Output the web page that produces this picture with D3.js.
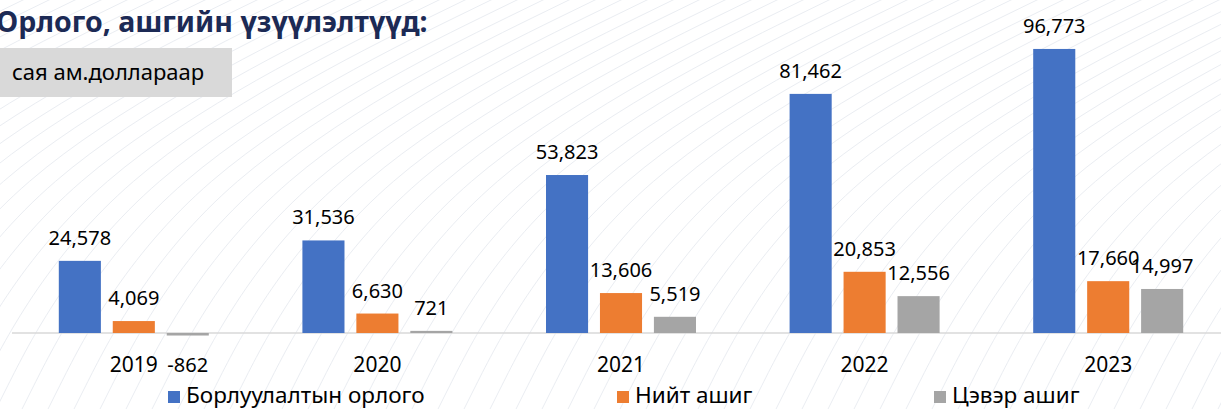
<!DOCTYPE html>
<html>
<head>
<meta charset="utf-8">
<script src="https://cdn.jsdelivr.net/npm/d3@7"></script>
<style>
  html, body { margin: 0; padding: 0; background: #fff; }
  svg { display: block; font-family: "Noto Sans", "Open Sans", sans-serif; }
</style>
</head>
<body>
<div id="chart"></div>
<script>
// data
const years = ['2019', '2020', '2021', '2022', '2023'];
const seriesNames = ['Борлуулалтын орлого', 'Нийт ашиг', 'Цэвэр ашиг'];
const revenue = [24578, 31536, 53823, 81462, 96773];
const grossProfit = [4069, 6630, 13606, 20853, 17660];
const netProfit = [-862, 721, 5519, 12556, 14997];
const colors = ['#4472c4', '#ed7d31', '#a5a5a5'];
const titleText = 'Орлого, ашгийн үзүүлэлтүүд:';
const unitText = 'сая ам.доллараар';

const width = 1221, height = 409;
const margin = {top: 16, left: 12, bottom: 76};
const plotRight = 1230;
const baseY = height - margin.bottom;

const svg = d3.select('#chart').append('svg')
  .attr('width', width)
  .attr('height', height);

// faint background strokes
const bg = svg.append('g').attr('class', 'bg');
const curve = d3.line().curve(d3.curveBasis);
d3.range(-30, 70).forEach(i => {
  const x0 = i * 26 - 300;
  bg.append('path')
    .attr('d', curve([[x0, height + 20], [x0 + 130, 170], [x0 + 520, -20]]))
    .attr('fill', 'none')
    .attr('stroke', '#eaedf2')
    .attr('stroke-width', 1);
});

// scales
const x0 = d3.scaleBand().domain(years).range([margin.left, plotRight]).paddingInner(0).paddingOuter(0);
const x1 = d3.scaleBand().domain(d3.range(3)).range([0, 150]).paddingInner(0.22);
const groupOffset = (x0.bandwidth() - 150) / 2;
const y = d3.scaleLinear().domain([0, 108000]).range([baseY, margin.top]);
const fmt = v => d3.format(',')(v).replace('\u2212', '-');

const rows = years.map((yr, i) => ({
  year: yr,
  values: [revenue[i], grossProfit[i], netProfit[i]]
}));

const g = svg.append('g');

// axis line
g.append('line')
  .attr('x1', margin.left).attr('x2', width)
  .attr('y1', y(0)).attr('y2', y(0))
  .attr('stroke', '#d9d9d9')
  .attr('stroke-width', 1.5);

const groups = g.selectAll('g.year')
  .data(rows)
  .enter().append('g')
    .attr('class', 'year')
    .attr('transform', d => 'translate(' + (x0(d.year) + groupOffset) + ',0)');

groups.selectAll('rect')
  .data(d => d.values)
  .enter().append('rect')
    .attr('x', (d, i) => x1(i))
    .attr('width', x1.bandwidth())
    .attr('y', d => Math.min(y(d), y(0)))
    .attr('height', d => Math.abs(y(0) - y(d)))
    .attr('fill', (d, i) => colors[i]);

// value labels
groups.selectAll('text.val')
  .data(d => d.values)
  .enter().append('text')
    .attr('class', 'val')
    .attr('x', (d, i) => x1(i) + x1.bandwidth() / 2)
    .attr('y', d => d >= 0 ? y(d) - 16 : baseY + 39)
    .attr('text-anchor', 'middle')
    .attr('font-size', '20px')
    .attr('fill', '#000')
    .text(d => fmt(d));

// category labels
const xAxis = d3.axisBottom(x0).tickSize(0).tickPadding(0);
const axisG = g.append('g')
  .attr('transform', 'translate(0,' + baseY + ')')
  .call(xAxis);
axisG.select('.domain').remove();
axisG.selectAll('text')
  .attr('dy', null)
  .attr('y', 39)
  .attr('font-size', '21px')
  .attr('font-family', '"Noto Sans", sans-serif')
  .attr('fill', '#000');

// legend
const legendX = [168, 617, 934];
const legend = svg.append('g').attr('class', 'legend');
const items = legend.selectAll('g')
  .data(seriesNames)
  .enter().append('g')
    .attr('transform', (d, i) => 'translate(' + legendX[i] + ',' + 391 + ')');
items.append('rect')
  .attr('width', 12).attr('height', 12)
  .attr('fill', (d, i) => colors[i]);
items.append('text')
  .attr('x', 18)
  .attr('y', 12)
  .attr('font-size', '22.5px')
  .attr('fill', '#000')
  .text(d => d);

// title and unit box
svg.append('text')
  .attr('x', -4)
  .attr('y', 32)
  .attr('font-size', '28.5px')
  .attr('font-weight', 'bold')
  .attr('fill', '#1c2a55')
  .text(titleText);

svg.append('rect')
  .attr('x', 0).attr('y', 48)
  .attr('width', 232).attr('height', 49)
  .attr('fill', '#d9d9d9');
svg.append('text')
  .attr('x', 12)
  .attr('y', 80)
  .attr('font-size', '22px')
  .attr('fill', '#000')
  .text(unitText);
</script>
</body>
</html>
